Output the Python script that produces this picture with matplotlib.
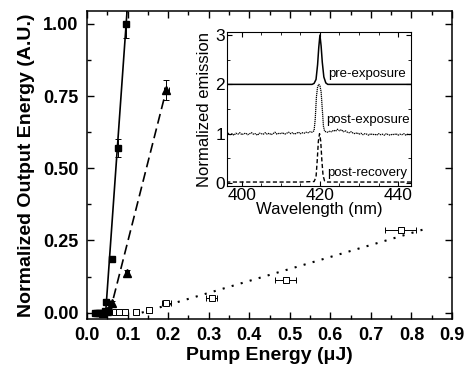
import matplotlib.pyplot as plt
import numpy as np
from matplotlib.ticker import MultipleLocator

plt.rcParams['font.family'] = ['Liberation Sans', 'DejaVu Sans']

#%% main panel data
# filled squares, solid fit
pump_a = [0.020, 0.025, 0.030, 0.035, 0.040, 0.045, 0.048, 0.061, 0.0757, 0.097]
out_a = [0.0, 0.0, 0.0, 0.0, 0.0, 0.004, 0.038, 0.185, 0.57, 1.0]
yerr_a = [0.004, 0.004, 0.004, 0.004, 0.004, 0.005, 0.008, 0.01, 0.03, 0.05]
fit_a_x = [0.046, 0.0995]
fit_a_y = [0.0, 1.06]

# filled triangles, dashed fit
pump_b = [0.040, 0.050, 0.055, 0.061, 0.098, 0.195]
out_b = [0.0, 0.004, 0.010, 0.034, 0.137, 0.77]
yerr_b = [0.004, 0.005, 0.006, 0.008, 0.012, 0.035]
xerr_b = [0.003, 0.003, 0.003, 0.004, 0.005, 0.006]
fit_b_x = [0.056, 0.197]
fit_b_y = [0.0, 0.78]

# open squares, dotted fit
pump_c = [0.069, 0.080, 0.094, 0.122, 0.153, 0.196, 0.307, 0.490, 0.774]
out_c = [0.003, 0.003, 0.003, 0.003, 0.009, 0.035, 0.052, 0.114, 0.286]
xerr_c = [0.005, 0.005, 0.005, 0.007, 0.008, 0.010, 0.014, 0.026, 0.038]
yerr_c = [0.003, 0.003, 0.003, 0.003, 0.004, 0.005, 0.006, 0.008, 0.010]
fit_c_x = [0.135, 0.834]
fit_c_y = [0.0, 0.29]

#%% inset spectra
wl_pre = [396, 405, 415, 418, 418.5, 419, 419.4, 419.7, 420, 420.3, 420.6,
          421, 421.5, 422, 425, 435, 443.5]
em_pre = [2.0, 2.0, 2.0, 2.0, 2.02, 2.1, 2.4, 2.75, 3.0, 2.78, 2.45,
          2.15, 2.03, 2.0, 2.0, 2.0, 2.0]

wl_post = [396.0, 396.5, 397.0, 397.5, 398.0, 398.5, 399.0, 399.5, 400.0, 400.5,
           401.0, 401.5, 402.0, 402.5, 403.0, 403.5, 404.0, 404.5, 405.0, 405.5,
           406.0, 406.5, 407.0, 407.5, 408.0, 408.5, 409.0, 409.5, 410.0, 410.5,
           411.0, 411.5, 412.0, 412.5, 413.0, 413.5, 414.0, 414.5, 415.0, 415.5,
           416.0, 416.5, 417.0, 417.5, 418.0,
           418.5, 418.8, 419.1, 419.4, 419.7, 420.0, 420.3, 420.6, 420.9, 421.2,
           421.5, 422.0, 422.5, 423.0, 423.5, 424.0, 424.5, 425.0, 425.5, 426.0,
           426.5, 427.0, 427.5, 428.0, 428.5, 429.0, 429.5, 430.0, 430.5, 431.0,
           431.5, 432.0, 432.5, 433.0, 433.5, 434.0, 434.5, 435.0, 435.5, 436.0,
           436.5, 437.0, 437.5, 438.0, 438.5, 439.0, 439.5, 440.0, 440.5, 441.0,
           441.5, 442.0, 442.5, 443.0, 443.5]
em_post = [0.99, 1.01, 0.98, 1.00, 0.97, 1.01, 0.99, 1.02, 0.98, 1.00,
           1.01, 0.98, 1.00, 1.02, 0.99, 1.00, 0.97, 1.01, 1.00, 0.99,
           1.02, 0.99, 1.01, 0.98, 1.00, 1.03, 0.99, 1.01, 1.00, 1.02,
           0.99, 1.01, 1.03, 1.00, 1.02, 0.99, 1.01, 1.03, 1.00, 1.02,
           1.01, 1.03, 1.02, 1.04, 1.03,
           1.06, 1.30, 1.75, 1.95, 2.00, 1.97, 1.85, 1.50, 1.15, 1.05,
           1.04, 1.03, 1.05, 1.04, 1.07, 1.05, 1.09, 1.06, 1.08, 1.04,
           1.06, 1.03, 1.02, 1.04, 1.01, 1.00, 1.02, 0.99, 1.01, 0.98,
           1.00, 0.99, 0.97, 1.00, 0.98, 0.99, 0.97, 1.00, 0.98, 0.99,
           0.97, 1.00, 0.98, 0.97, 0.99, 0.98, 1.00, 0.97, 0.99, 0.98,
           1.00, 0.97, 0.99, 0.98, 0.99]

wl_rec = [396, 405, 415, 418.5, 419.0, 419.3, 419.6, 419.9, 420.2, 420.5,
          420.8, 421.2, 421.6, 425, 435, 443.5]
em_rec = [0.02, 0.02, 0.02, 0.03, 0.12, 0.45, 0.85, 1.0, 0.85, 0.45,
          0.15, 0.04, 0.02, 0.02, 0.02, 0.02]

#%% figure
fig = plt.figure(figsize=(4.67, 3.69), dpi=100)
ax = fig.add_axes([0.1863, 0.1355, 0.7816, 0.8347])

ax.plot(fit_a_x, fit_a_y, c="k", lw=1.2)
ax.plot(fit_b_x, fit_b_y, c="k", lw=1.2, linestyle=(0, (6, 3)))
ax.plot(fit_c_x, fit_c_y, c="k", lw=1.5, linestyle=(0, (1, 3.5)))

ax.errorbar(pump_a, out_a, yerr=yerr_a, fmt="s", c="k", ms=4.5,
            elinewidth=0.7, capsize=2, capthick=0.7)
ax.errorbar(pump_b, out_b, yerr=yerr_b, xerr=xerr_b, fmt="^", c="k", ms=5.5,
            elinewidth=0.7, capsize=2, capthick=0.7)
ax.errorbar(pump_c, out_c, yerr=yerr_c, xerr=xerr_c, fmt="s", c="k", ms=4,
            mfc="white", mew=0.7, elinewidth=0.7, capsize=2, capthick=0.7)

ax.set_xlim(0, 0.9)
ax.set_ylim(-0.022, 1.045)
ax.xaxis.set_minor_locator(MultipleLocator(0.05))
ax.yaxis.set_minor_locator(MultipleLocator(0.125))
ax.tick_params(which="both", direction="in", top=True, right=True, width=1)
ax.tick_params(which="major", length=5, labelsize=13, pad=6)
ax.tick_params(which="minor", length=3)
ax.set_xticks(np.arange(0, 0.91, 0.1))
ax.set_xticklabels(["%.1f" % v for v in np.arange(0, 0.91, 0.1)],
                   fontweight="bold")
ax.set_yticks([0, 0.25, 0.5, 0.75, 1.0])
ax.set_yticklabels(["0.00", "0.25", "0.50", "0.75", "1.00"], fontweight="bold")
ax.set_xlabel("Pump Energy (μJ)", fontsize=14, fontweight="bold", labelpad=2)
ax.set_ylabel("Normalized Output Energy (A.U.)", fontsize=14,
              fontweight="bold", labelpad=6)
for s in ax.spines.values():
    s.set_linewidth(1.1)

#%% inset
ins = fig.add_axes([0.486, 0.496, 0.394, 0.417])
ins.plot(wl_pre, em_pre, c="k", lw=1.1)
ins.plot(wl_post, em_post, c="k", lw=0.9, linestyle=(0, (1, 0.6)))
ins.plot(wl_rec, em_rec, c="k", lw=1.0, linestyle=(0, (3, 1.8)))

ins.text(432, 2.21, "pre-exposure", ha="center", va="center", fontsize=9.5)
ins.text(432.3, 1.28, "post-exposure", ha="center", va="center", fontsize=9.5)
ins.text(432, 0.21, "post-recovery", ha="center", va="center", fontsize=9.5)

ins.set_xlim(396.2, 443.3)
ins.set_ylim(-0.06, 3.06)
ins.xaxis.set_major_locator(MultipleLocator(20))
ins.xaxis.set_minor_locator(MultipleLocator(5))
ins.yaxis.set_major_locator(MultipleLocator(1))
ins.yaxis.set_minor_locator(MultipleLocator(0.5))
ins.tick_params(which="both", direction="in", top=True, right=True,
                labelsize=12.5, pad=1.5)
ins.tick_params(which="major", length=3.5)
ins.tick_params(which="minor", length=2)
ins.set_xlabel("Wavelength (nm)", fontsize=12, labelpad=-1)
ins.set_ylabel("Normalized emission", fontsize=12, labelpad=2)

fig.savefig("out.png", dpi=100)
